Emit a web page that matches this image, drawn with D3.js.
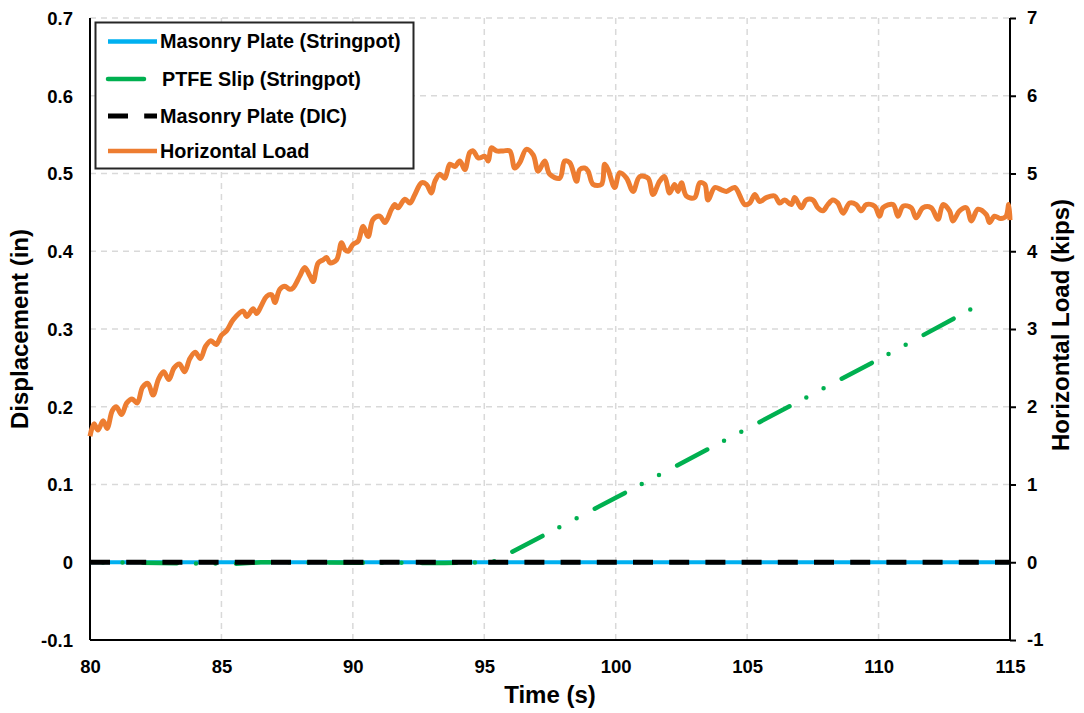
<!DOCTYPE html>
<html>
<head>
<meta charset="utf-8">
<script src="https://cdn.jsdelivr.net/npm/d3@7"></script>
<style>
  body { margin: 0; background: #fff; }
  svg text { font-family: "Liberation Sans", Arial, sans-serif; font-weight: bold; fill: #000; }
</style>
</head>
<body>
<svg id="chart" width="1084" height="713"></svg>
<script>
// tick values
var timeTicks = [80, 85, 90, 95, 100, 105, 110, 115];
var dispTicks = [-0.1, 0, 0.1, 0.2, 0.3, 0.4, 0.5, 0.6, 0.7];
var loadTicks = [-1, 0, 1, 2, 3, 4, 5, 6, 7];

// Masonry Plate (Stringpot), in
var plateT = [80, 115];
var plateV = [0, 0];

// PTFE Slip (Stringpot), in
var ptfeT = [80, 85.5, 86.5, 93.5, 95.3, 100, 105.4, 110, 113.6];
var ptfeV = [0, -0.002, 0, -0.001, 0, 0.083, 0.179, 0.261, 0.327];

// Masonry Plate (DIC), in
var dicT = [80, 115];
var dicV = [0, 0];

// Horizontal Load, kips
var loadT = [80.00, 80.15, 80.30, 80.50, 80.65, 80.85, 81.00, 81.20, 81.40, 81.60, 81.80,
  82.00, 82.20, 82.40, 82.60, 82.80, 83.00, 83.20, 83.40, 83.60, 83.80, 84.00, 84.20,
  84.40, 84.60, 84.80, 85.00, 85.20, 85.45, 85.83, 85.96, 86.21, 86.34, 86.53, 86.72,
  86.91, 87.03, 87.22, 87.41, 87.60, 87.73, 87.98, 88.17, 88.37, 88.49, 88.68, 88.87,
  89.00, 89.13, 89.38, 89.57, 89.70, 89.82, 90.01, 90.20, 90.39, 90.58, 90.77, 91.03,
  91.22, 91.47, 91.60, 91.72, 91.98, 92.17, 92.36, 92.61, 92.80, 92.99, 93.12, 93.31,
  93.50, 93.69, 93.88, 94.07, 94.26, 94.45, 94.58, 94.77, 95.02, 95.15, 95.27, 95.46,
  95.72, 95.97, 96.16, 96.35, 96.60, 96.86, 97.05, 97.30, 97.49, 97.87, 98.06, 98.25,
  98.51, 98.63, 98.82, 98.95, 99.14, 99.46, 99.58, 99.71, 99.96, 100.15, 100.41, 100.66,
  100.91, 101.23, 101.42, 101.67, 101.86, 102.05, 102.24, 102.37, 102.50, 102.69, 103.00,
  103.20, 103.39, 103.51, 103.77, 104.02, 104.21, 104.53, 104.91, 105.10, 105.29, 105.48,
  105.73, 106.05, 106.24, 106.43, 106.68, 106.81, 107.06, 107.25, 107.50, 107.69, 107.88,
  108.07, 108.26, 108.45, 108.65, 108.90, 109.15, 109.34, 109.53, 109.85, 110.04, 110.17,
  110.55, 110.74, 110.93, 111.24, 111.43, 111.69, 112.00, 112.26, 112.45, 112.70, 112.83,
  113.08, 113.34, 113.53, 113.78, 114.10, 114.22, 114.41, 114.65, 114.85, 114.95, 115.00];
var loadV = [1.62, 1.78, 1.70, 1.82, 1.72, 1.95, 2.00, 1.90, 2.05, 2.10, 2.05,
  2.25, 2.30, 2.15, 2.35, 2.45, 2.35, 2.50, 2.55, 2.45, 2.62, 2.70, 2.62,
  2.78, 2.85, 2.80, 2.92, 2.98, 3.12, 3.23, 3.16, 3.26, 3.20, 3.31, 3.42,
  3.44, 3.34, 3.51, 3.55, 3.51, 3.53, 3.68, 3.79, 3.68, 3.61, 3.85, 3.89,
  3.92, 3.85, 3.89, 4.11, 4.02, 4.00, 4.09, 4.13, 4.32, 4.19, 4.41, 4.45,
  4.37, 4.54, 4.60, 4.56, 4.67, 4.62, 4.73, 4.88, 4.86, 4.75, 4.90, 4.99,
  4.94, 5.12, 5.09, 5.16, 5.05, 5.27, 5.29, 5.20, 5.22, 5.16, 5.33, 5.29,
  5.29, 5.29, 5.07, 5.14, 5.31, 5.24, 5.03, 5.16, 4.99, 4.94, 5.16, 5.14,
  4.90, 5.05, 5.07, 5.03, 4.86, 4.86, 5.12, 5.05, 4.82, 5.01, 4.94, 4.77,
  4.96, 4.94, 4.73, 4.90, 4.96, 4.75, 4.86, 4.77, 4.88, 4.71, 4.69,
  4.88, 4.86, 4.66, 4.82, 4.79, 4.77, 4.82, 4.60, 4.62, 4.73, 4.64,
  4.69, 4.71, 4.62, 4.66, 4.60, 4.69, 4.56, 4.66, 4.66, 4.56, 4.52,
  4.60, 4.66, 4.62, 4.49, 4.62, 4.60, 4.52, 4.60, 4.58, 4.45, 4.56,
  4.60, 4.45, 4.58, 4.56, 4.43, 4.56, 4.56, 4.41, 4.60, 4.52, 4.39,
  4.52, 4.56, 4.39, 4.54, 4.47, 4.37, 4.45, 4.42, 4.45, 4.60, 4.40];

var legendNames = ["Masonry Plate (Stringpot)", "PTFE Slip (Stringpot)", "Masonry Plate (DIC)", "Horizontal Load"];
var colors = ["#00b0f0", "#00b050", "#000000", "#ed7d31"];

var svg = d3.select("#chart");
var margin = { top: 18, right: 74, bottom: 73, left: 90 };
var width = 1084 - margin.left - margin.right,
    height = 713 - margin.top - margin.bottom;

var x = d3.scaleLinear().domain([80, 115]).range([margin.left, margin.left + width]);
var y = d3.scaleLinear().domain([-0.1, 0.7]).range([margin.top + height, margin.top]);
var y2 = d3.scaleLinear().domain([-1, 7]).range([margin.top + height, margin.top]);

svg.append("rect").attr("width", 1084).attr("height", 713).attr("fill", "#fff");

// gridlines
var grid = svg.append("g").attr("stroke", "#d9d9d9").attr("stroke-width", 1.5).attr("stroke-dasharray", "6,5");
grid.selectAll("line.v")
    .data(timeTicks.slice(1, -1))
    .enter().append("line")
    .attr("x1", function (d) { return x(d); })
    .attr("x2", function (d) { return x(d); })
    .attr("y1", y(0.7)).attr("y2", y(-0.1));
grid.selectAll("line.h")
    .data(dispTicks.slice(1))
    .enter().append("line")
    .attr("x1", x(80)).attr("x2", x(115))
    .attr("y1", function (d) { return y(d); })
    .attr("y2", function (d) { return y(d); });

// axes (hyphen-minus like the original)
function hyphen(s) { return s.replace("\u2212", "-"); }
var bottomAxis = svg.append("g")
    .attr("transform", "translate(0," + y(-0.1) + ")")
    .call(d3.axisBottom(x).tickValues(timeTicks).tickSize(0).tickPadding(20));
var leftAxis = svg.append("g")
    .attr("transform", "translate(" + x(80) + ",0)")
    .call(d3.axisLeft(y).tickValues(dispTicks).tickSize(0).tickPadding(17)
        .tickFormat(function (d) { return d === 0 ? "0" : hyphen(d3.format(".1f")(d)); }));
var rightAxis = svg.append("g")
    .attr("transform", "translate(" + x(115) + ",0)")
    .call(d3.axisRight(y2).tickValues(loadTicks).tickSize(6).tickPadding(11)
        .tickFormat(function (d) { return hyphen(d3.format("d")(d)); }));

[bottomAxis, leftAxis, rightAxis].forEach(function (a) {
    a.select(".domain").attr("stroke", "#000").attr("stroke-width", 2);
    a.selectAll(".tick line").attr("stroke", "#000").attr("stroke-width", 2);
    a.selectAll(".tick text").style("font-size", "18.5px").style("font-family", "'Liberation Sans', Arial, sans-serif").style("font-weight", "bold").attr("fill", "#000");
});
bottomAxis.select(".domain").attr("d", "M" + x(80) + ",0H" + x(115));
leftAxis.select(".domain").attr("d", "M0," + y(0.7) + "V" + y(-0.1));
rightAxis.select(".domain").attr("d", "M0," + y2(7) + "V" + y2(-1));
leftAxis.selectAll(".tick text").attr("dy", "0.35em");

// series
var line = d3.line()
    .x(function (d) { return x(d[0]); })
    .y(function (d) { return y(d[1]); });
var lineLoad = d3.line()
    .x(function (d) { return x(d[0]); })
    .y(function (d) { return y2(d[1]); })
    .curve(d3.curveCatmullRom.alpha(0.5));

function zip(a, b) { return a.map(function (v, i) { return [v, b[i]]; }); }

svg.append("path").datum(zip(plateT, plateV))
    .attr("d", line).attr("fill", "none")
    .attr("stroke", colors[0]).attr("stroke-width", 4);

svg.append("path").datum(zip(ptfeT, ptfeV))
    .attr("d", line).attr("fill", "none")
    .attr("stroke", colors[1]).attr("stroke-width", 4.5)
    .attr("stroke-linecap", "round")
    .attr("stroke-dasharray", "34,19,0,19.5,0,20.5")
    .attr("stroke-dashoffset", 40);

svg.append("path").datum(zip(dicT, dicV))
    .attr("d", line).attr("fill", "none")
    .attr("stroke", colors[2]).attr("stroke-width", 5)
    .attr("stroke-dasharray", "20,16.2");

svg.append("path").datum(zip(loadT, loadV))
    .attr("d", lineLoad).attr("fill", "none")
    .attr("stroke", colors[3]).attr("stroke-width", 5)
    .attr("stroke-linejoin", "round");

// axis titles
svg.append("text")
    .attr("x", x(97.5)).attr("y", 703)
    .attr("text-anchor", "middle")
    .style("font-size", "24px")
    .text("Time (s)");
svg.append("text")
    .attr("transform", "translate(28," + ((y(0.7) + y(-0.1)) / 2) + ") rotate(-90)")
    .attr("text-anchor", "middle")
    .style("font-size", "24px")
    .text("Displacement (in)");
svg.append("text")
    .attr("transform", "translate(1069," + ((y(0.7) + y(-0.1)) / 2 - 4) + ") rotate(-90)")
    .attr("text-anchor", "middle")
    .style("font-size", "24px")
    .text("Horizontal Load (kips)");

// legend
var legend = svg.append("g");
legend.append("rect")
    .attr("x", 95.5).attr("y", 22.5).attr("width", 318).attr("height", 146)
    .attr("fill", "#fff").attr("stroke", "#262626").attr("stroke-width", 2);
var rowY = [41.5, 79, 116, 151];
var items = legend.selectAll("g.item")
    .data(legendNames)
    .enter().append("g")
    .attr("transform", function (d, i) { return "translate(0," + rowY[i] + ")"; });
items.append("line")
    .attr("x1", 108).attr("x2", 157).attr("y1", 0).attr("y2", 0)
    .attr("stroke", function (d, i) { return colors[i]; })
    .attr("stroke-width", function (d, i) { return i === 2 ? 5 : 4.5; })
    .attr("stroke-linecap", function (d, i) { return i === 1 ? "round" : "butt"; })
    .attr("stroke-dasharray", function (d, i) {
        if (i === 1) return "36,40";
        if (i === 2) return "20,16.2";
        return null;
    });
items.append("text")
    .attr("x", function (d, i) { return i === 1 ? 162 : 160; })
    .attr("y", 0).attr("dy", "0.35em")
    .style("font-size", "19.8px")
    .text(function (d) { return d; });
</script>
</body>
</html>
